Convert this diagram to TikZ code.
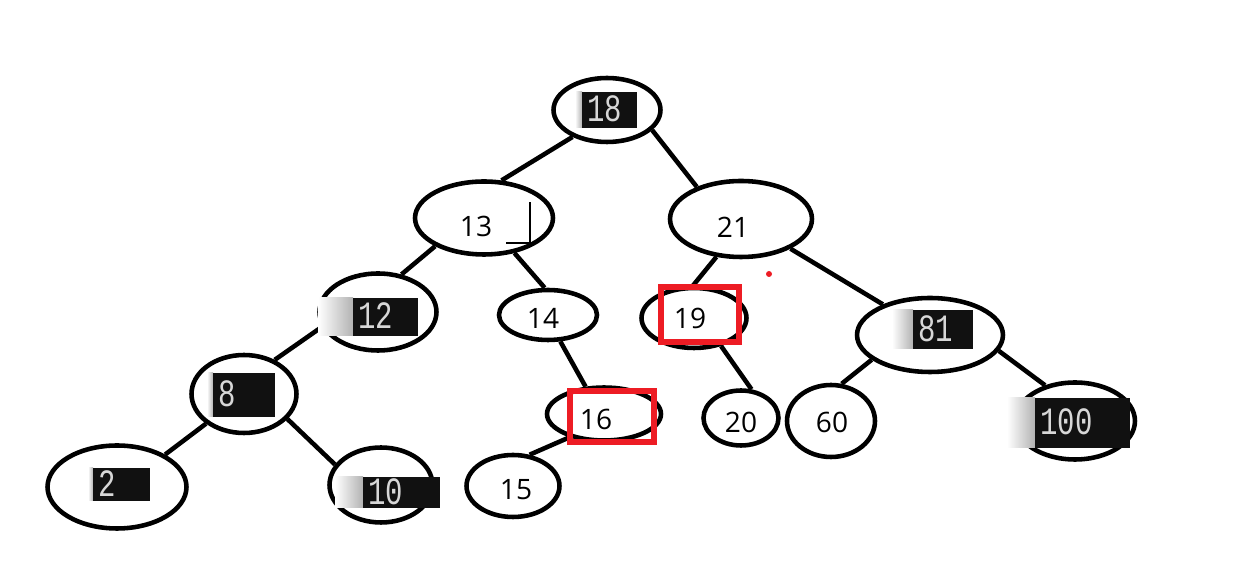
\documentclass[tikz,border=0pt]{standalone}
\usepackage{fontspec}
\setmainfont{Open Sans}
\newfontfamily\consolefont[FakeStretch=0.75]{Liberation Mono}
\definecolor{paintred}{RGB}{237,28,36}
\definecolor{consolebg}{RGB}{17,17,17}
\definecolor{consolefg}{RGB}{215,215,215}
\usetikzlibrary{shapes.geometric}

\tikzset{
  bubble/.style={draw, ellipse, line width=2.6pt, inner sep=0pt},
  plainnum/.style={font=\fontsize{16}{16}\selectfont, inner sep=0pt},
  consolebox/.style={fill=consolebg, text=consolefg, font=\consolefont\fontsize{22}{22}\selectfont,
    anchor=west, align=left, inner xsep=0.1cm, inner ysep=0pt, text height=13.5pt, text depth=0pt},
  fadestrip/.style={left color=white, right color=black!30},
  branch/.style={line width=2.6pt},
  redframe/.style={draw=paintred, line width=3pt}
}

\begin{document}
\begin{tikzpicture}[x=0.02cm, y=-0.02cm]
  \useasboundingbox (0,0) rectangle (1245,573);

  % Ellipses
  \node[bubble, minimum width=2.14cm, minimum height=1.28cm] (n18) at (607,110) {};
  \node[bubble, minimum width=2.76cm, minimum height=1.46cm] (n13) at (484,218) {};
  \node[bubble, minimum width=2.84cm, minimum height=1.52cm] (n21) at (741,219) {};
  \node[bubble, minimum width=2.34cm, minimum height=1.54cm] (n12) at (378,312) {};
  \node[bubble, minimum width=1.96cm, minimum height=1.00cm] (n14) at (548,315) {};
  \node[bubble, minimum width=2.10cm, minimum height=1.20cm] (n19) at (694,318) {};
  \node[bubble, minimum width=2.92cm, minimum height=1.48cm] (n81) at (930,335) {};
  \node[bubble, minimum width=2.10cm, minimum height=1.56cm] (n8) at (244,394) {};
  \node[bubble, minimum width=2.28cm, minimum height=1.06cm] (n16) at (604,414) {};
  \node[bubble, minimum width=1.50cm, minimum height=1.10cm] (n20) at (741,418) {};
  \node[bubble, minimum width=1.76cm, minimum height=1.44cm] (n60) at (831,421) {};
  \node[bubble, minimum width=2.40cm, minimum height=1.54cm] (n100) at (1075,421) {};
  \node[bubble, minimum width=2.78cm, minimum height=1.66cm] (n2) at (117,487) {};
  \node[bubble, minimum width=2.06cm, minimum height=1.50cm] (n10) at (381,485) {};
  \node[bubble, minimum width=1.86cm, minimum height=1.24cm] (n15) at (513,486) {};

  % Branches
  \draw[branch] (n18.218) -- (n13.65);
  \draw[branch] (n18.336) -- (n21.144);
  \draw[branch] (n13.210) -- (n12.58);
  \draw[branch] (n13.311) -- (n14.97);
  \draw[branch] (n12.195) -- (n8.48);
  \draw[branch] (n8.218) -- (n2.34);
  \draw[branch] (n8.330) -- (n10.156);
  \draw[branch] (n14.295) -- (n16.124);
  \draw[branch] (n16.214) -- (n15.62);
  \draw[branch] (n21.237) -- (n19.92);
  \draw[branch] (n19.314) -- (n20.70);
  \draw[branch] (n21.329) -- (n81.147);
  \draw[branch] (n81.203) -- (n60.74);
  \draw[branch] (n81.347) -- (n100.130);

  % Fading strips left of the console boxes
  \shade[fadestrip] (575,92) rectangle (582,128);
  \shade[fadestrip] (318,298) rectangle (353,336);
  \shade[fadestrip] (892,310) rectangle (913,349);
  \shade[fadestrip] (1007,398) rectangle (1035,448);
  \shade[fadestrip] (88,468) rectangle (93,501);
  \shade[fadestrip] (335,477) rectangle (363,508);
  \shade[fadestrip] (207,373) rectangle (213,417);

  % Console boxes
  \node[consolebox, minimum width=1.10cm, minimum height=0.72cm, text width=0.90cm] (l18) at (582,110) {18};
  \node[consolebox, minimum width=1.30cm, minimum height=0.76cm, text width=1.10cm] (l12) at (353,317) {12};
  \node[consolebox, minimum width=1.20cm, minimum height=0.78cm, text width=1.00cm] (l81) at (913,330) {81};
  \node[consolebox, minimum width=1.90cm, minimum height=1.00cm, text width=1.70cm] (l100) at (1035,423) {100};
  \node[consolebox, minimum width=1.14cm, minimum height=0.66cm, text width=0.94cm] (l2) at (93,485) {2};
  \node[consolebox, minimum width=1.54cm, minimum height=0.62cm, text width=1.34cm] (l10) at (363,493) {10};
  \node[consolebox, minimum width=1.24cm, minimum height=0.88cm, text width=1.04cm] (l8) at (213,395) {8};

  % Plain labels
  \node[plainnum] (l13) at (476,226) {13};
  \node[plainnum] (l21) at (733,227) {21};
  \node[plainnum] (l14) at (543,318) {14};
  \node[plainnum] (l19) at (690,318) {19};
  \node[plainnum] (l16) at (596,419) {16};
  \node[plainnum] (l20) at (741,422) {20};
  \node[plainnum] (l60) at (832,422) {60};
  \node[plainnum] (l15) at (516,490) {15};

  % Red frames
  \draw[redframe] (661,287) rectangle (739,342);
  \draw[redframe] (570,391) rectangle (654,442);
  \fill[paintred] (769,274) circle (3);

  % Stray mark beside 13
  \draw[line width=1.5pt] (506,243) -- (530,243) -- (530,202);
\end{tikzpicture}
\end{document}
